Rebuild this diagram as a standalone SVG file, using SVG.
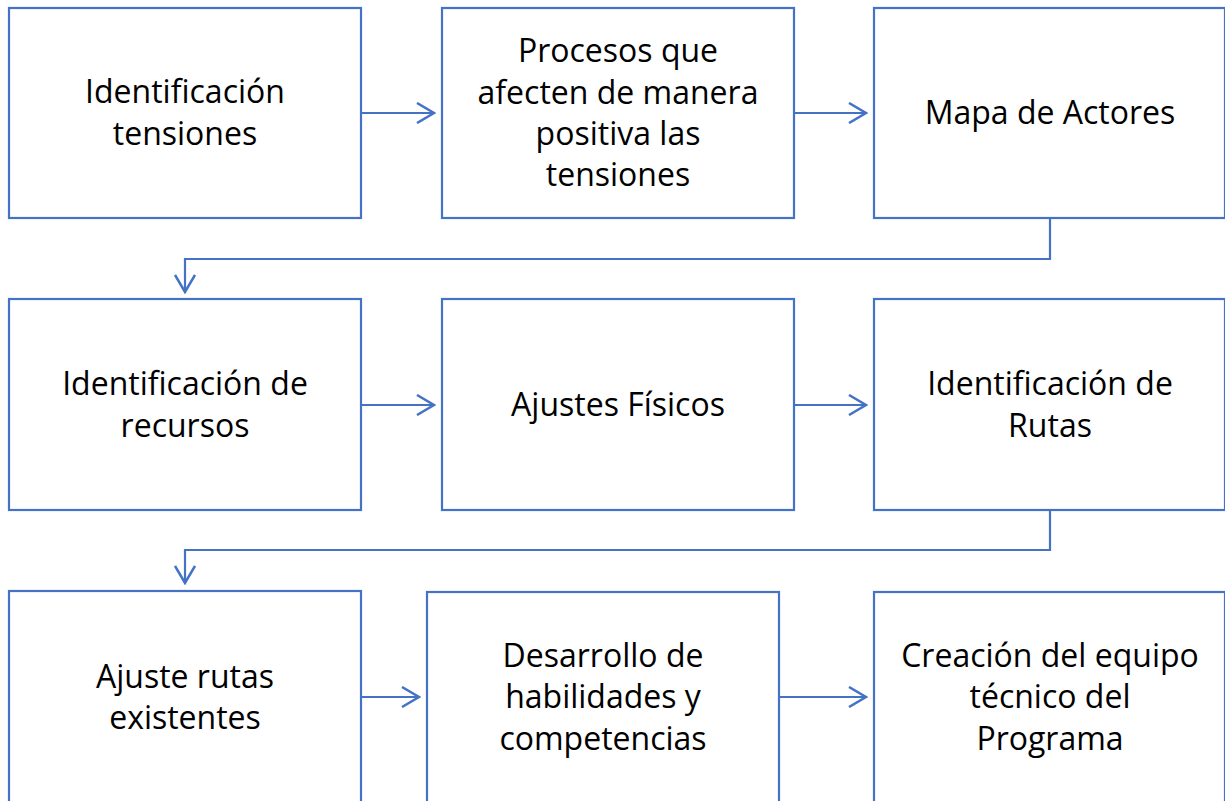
<svg xmlns="http://www.w3.org/2000/svg" width="1225" height="801" viewBox="0 0 1225 801">
<style>
.box{fill:#fff;stroke:#4472C4;stroke-width:2.2}
.lbl{font-family:"Open Sans","Liberation Sans",sans-serif;font-size:32px;fill:#000;text-anchor:middle}
.conn{fill:none;stroke:#4472C4;stroke-width:2.2}
</style>
<defs>
<marker id="ah" viewBox="0 0 20 22" refX="18" refY="11" markerWidth="20" markerHeight="22" markerUnits="userSpaceOnUse" orient="auto">
<path d="M1,1 L18,11 L1,21" fill="none" stroke="#4472C4" stroke-width="2.5"/>
</marker>
</defs>
<rect width="1225" height="801" fill="#fff"/>
<g id="n1"><rect class="box" x="9" y="8" width="352" height="210"/><text class="lbl" x="185"><tspan x="185" y="103">Identificación</tspan><tspan x="185" y="145">tensiones</tspan></text></g>
<g id="n2"><rect class="box" x="442" y="8" width="352" height="210"/><text class="lbl"><tspan x="618" y="62">Procesos que</tspan><tspan x="618" y="104">afecten de manera</tspan><tspan x="618" y="145">positiva las</tspan><tspan x="618" y="186">tensiones</tspan></text></g>
<g id="n3"><rect class="box" x="874" y="8" width="351" height="210"/><text class="lbl"><tspan x="1050" y="124">Mapa de Actores</tspan></text></g>
<g id="n4"><rect class="box" x="9" y="299" width="352" height="211"/><text class="lbl"><tspan x="185" y="395">Identificación de</tspan><tspan x="185" y="437">recursos</tspan></text></g>
<g id="n5"><rect class="box" x="442" y="299" width="352" height="211"/><text class="lbl"><tspan x="618" y="416">Ajustes Físicos</tspan></text></g>
<g id="n6"><rect class="box" x="874" y="299" width="351" height="211"/><text class="lbl"><tspan x="1050" y="395">Identificación de</tspan><tspan x="1050" y="437">Rutas</tspan></text></g>
<g id="n7"><rect class="box" x="9" y="591" width="352" height="220"/><text class="lbl"><tspan x="185" y="688">Ajuste rutas</tspan><tspan x="185" y="729">existentes</tspan></text></g>
<g id="n8"><rect class="box" x="427" y="592" width="352" height="220"/><text class="lbl"><tspan x="603" y="667">Desarrollo de</tspan><tspan x="603" y="708">habilidades y</tspan><tspan x="603" y="750">competencias</tspan></text></g>
<g id="n9"><rect class="box" x="874" y="592" width="351" height="220"/><text class="lbl"><tspan x="1050" y="667">Creación del equipo</tspan><tspan x="1050" y="708">técnico del</tspan><tspan x="1050" y="750">Programa</tspan></text></g>
<g id="connectors">
<path class="conn" d="M361,113 H434" marker-end="url(#ah)"/>
<path class="conn" d="M794,113 H866" marker-end="url(#ah)"/>
<path class="conn" d="M1050,218 V259 H185 V292" marker-end="url(#ah)"/>
<path class="conn" d="M361,405 H434" marker-end="url(#ah)"/>
<path class="conn" d="M794,405 H866" marker-end="url(#ah)"/>
<path class="conn" d="M1050,510 V550 H185 V583" marker-end="url(#ah)"/>
<path class="conn" d="M361,697 H419" marker-end="url(#ah)"/>
<path class="conn" d="M779,697 H866" marker-end="url(#ah)"/>
</g>
</svg>
